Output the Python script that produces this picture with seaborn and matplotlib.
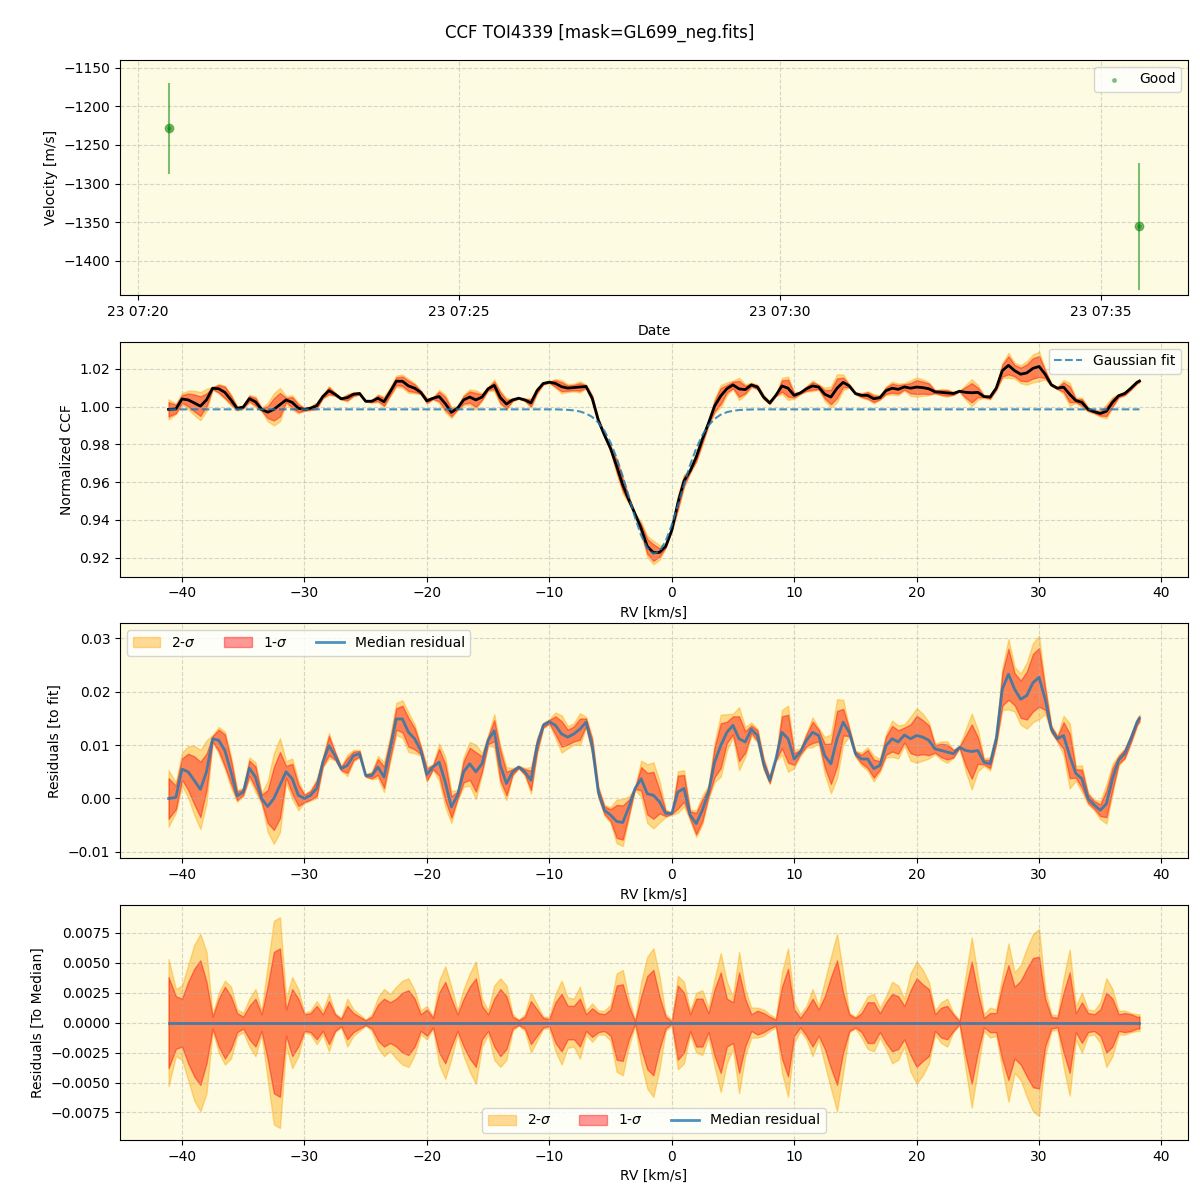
import numpy as np
import pandas as pd
import matplotlib
matplotlib.use('Agg')
import matplotlib.pyplot as plt
import matplotlib.dates as mdates
from matplotlib.ticker import MultipleLocator
import seaborn as sns

# RV grid of the CCF (km/s)
rv = [
    -41.1, -40.5, -40.0, -39.5, -39.0, -38.5, -38.0, -37.5, -37.0, -36.5,
    -36.0, -35.5, -35.0, -34.5, -34.0, -33.5, -33.0, -32.5, -32.0, -31.5,
    -31.0, -30.5, -30.0, -29.5, -29.0, -28.5, -28.0, -27.5, -27.0, -26.5,
    -26.0, -25.5, -25.0, -24.5, -24.0, -23.5, -23.0, -22.5, -22.0, -21.5,
    -21.0, -20.5, -20.0, -19.5, -19.0, -18.5, -18.0, -17.5, -17.0, -16.5,
    -16.0, -15.5, -15.0, -14.5, -14.0, -13.5, -13.0, -12.5, -12.0, -11.5,
    -11.0, -10.5, -10.0, -9.5, -9.0, -8.5, -8.0, -7.5, -7.0, -6.5,
    -6.0, -5.5, -5.0, -4.5, -4.0, -3.5, -3.0, -2.5, -2.0, -1.5,
    -1.0, -0.5, 0.0, 0.5, 1.0, 1.5, 2.0, 2.5, 3.0, 3.5,
    4.0, 4.5, 5.0, 5.5, 6.0, 6.5, 7.0, 7.5, 8.0, 8.5,
    9.0, 9.5, 10.0, 10.5, 11.0, 11.5, 12.0, 12.5, 13.0, 13.5,
    14.0, 14.5, 15.0, 15.5, 16.0, 16.5, 17.0, 17.5, 18.0, 18.5,
    19.0, 19.5, 20.0, 20.5, 21.0, 21.5, 22.0, 22.5, 23.0, 23.5,
    24.0, 24.5, 25.0, 25.5, 26.0, 26.5, 27.0, 27.5, 28.0, 28.5,
    29.0, 29.5, 30.0, 30.5, 31.0, 31.5, 32.0, 32.5, 33.0, 33.5,
    34.0, 34.5, 35.0, 35.5, 36.0, 36.5, 37.0, 37.5, 38.0, 38.2,
]

# gaussian fit evaluated on the grid
gauss_fit = [
    0.9985, 0.9985, 0.9985, 0.9985, 0.9985, 0.9985, 0.9985, 0.9985, 0.9985, 0.9985,
    0.9985, 0.9985, 0.9985, 0.9985, 0.9985, 0.9985, 0.9985, 0.9985, 0.9985, 0.9985,
    0.9985, 0.9985, 0.9985, 0.9985, 0.9985, 0.9985, 0.9985, 0.9985, 0.9985, 0.9985,
    0.9985, 0.9985, 0.9985, 0.9985, 0.9985, 0.9985, 0.9985, 0.9985, 0.9985, 0.9985,
    0.9985, 0.9985, 0.9985, 0.9985, 0.9985, 0.9985, 0.9985, 0.9985, 0.9985, 0.9985,
    0.9985, 0.9985, 0.9985, 0.9985, 0.9985, 0.9985, 0.9985, 0.9985, 0.9985, 0.9985,
    0.9985, 0.9985, 0.9985, 0.9985, 0.9984, 0.99825, 0.99795, 0.99737, 0.99632, 0.99449,
    0.99156, 0.98713, 0.9809, 0.97276, 0.96295, 0.9521, 0.94127, 0.93181, 0.92506, 0.92208,
    0.92338, 0.92871, 0.93725, 0.9477, 0.95868, 0.96902, 0.97788, 0.98486, 0.98998, 0.99347,
    0.9957, 0.99702, 0.99776, 0.99815, 0.99835, 0.99845, 0.9985, 0.9985, 0.9985, 0.9985,
    0.9985, 0.9985, 0.9985, 0.9985, 0.9985, 0.9985, 0.9985, 0.9985, 0.9985, 0.9985,
    0.9985, 0.9985, 0.9985, 0.9985, 0.9985, 0.9985, 0.9985, 0.9985, 0.9985, 0.9985,
    0.9985, 0.9985, 0.9985, 0.9985, 0.9985, 0.9985, 0.9985, 0.9985, 0.9985, 0.9985,
    0.9985, 0.9985, 0.9985, 0.9985, 0.9985, 0.9985, 0.9985, 0.9985, 0.9985, 0.9985,
    0.9985, 0.9985, 0.9985, 0.9985, 0.9985, 0.9985, 0.9985, 0.9985, 0.9985, 0.9985,
    0.9985, 0.9985, 0.9985, 0.9985, 0.9985, 0.9985, 0.9985, 0.9985, 0.9985, 0.9985,
]

# median residual to the fit
resid_med = [
    0.0000, 0.0002, 0.0055, 0.0050, 0.0034, 0.0017, 0.0050, 0.0112, 0.0109, 0.0090,
    0.0050, 0.0005, 0.0012, 0.0057, 0.0040, 0.0000, -0.0015, 0.0000, 0.0025, 0.0050,
    0.0037, 0.0006, 0.0000, 0.0006, 0.0019, 0.0068, 0.0099, 0.0080, 0.0056, 0.0062,
    0.0080, 0.0084, 0.0043, 0.0043, 0.0059, 0.0040, 0.0093, 0.0149, 0.0149, 0.0124,
    0.0112, 0.0090, 0.0045, 0.0059, 0.0068, 0.0031, -0.0016, 0.0006, 0.0050, 0.0065,
    0.0050, 0.0065, 0.0109, 0.0127, 0.0062, 0.0028, 0.0050, 0.0059, 0.0050, 0.0034,
    0.0099, 0.0137, 0.0144, 0.0137, 0.0121, 0.0115, 0.0121, 0.0130, 0.0143, 0.0099,
    0.0012, -0.0022, -0.0031, -0.0043, -0.0045, -0.0016, 0.0019, 0.0037, 0.0009, 0.0006,
    -0.0006, -0.0028, -0.0028, 0.0012, 0.0019, -0.0031, -0.0047, -0.0022, 0.0012, 0.0068,
    0.0099, 0.0124, 0.0137, 0.0112, 0.0106, 0.0130, 0.0118, 0.0065, 0.0034, 0.0074,
    0.0124, 0.0112, 0.0074, 0.0087, 0.0109, 0.0124, 0.0118, 0.0080, 0.0065, 0.0112,
    0.0143, 0.0124, 0.0084, 0.0074, 0.0074, 0.0056, 0.0062, 0.0099, 0.0112, 0.0106,
    0.0119, 0.0112, 0.0118, 0.0115, 0.0109, 0.0093, 0.0090, 0.0087, 0.0084, 0.0096,
    0.0090, 0.0088, 0.0090, 0.0068, 0.0065, 0.0112, 0.0205, 0.0233, 0.0205, 0.0186,
    0.0193, 0.0217, 0.0227, 0.0186, 0.0130, 0.0112, 0.0118, 0.0080, 0.0047, 0.0037,
    0.0000, -0.0012, -0.0022, -0.0010, 0.0037, 0.0072, 0.0084, 0.0112, 0.0143, 0.0150,
]

# 1-sigma and 2-sigma half widths (units of 1e-3)
sig1_milli = [
    3.8, 2.2, 2.0, 3.4, 4.5, 5.2, 3.4, 0.5, 2.0, 3.0,
    2.2, 0.8, 0.5, 1.4, 2.0, 0.7, 3.1, 5.9, 6.2, 1.1,
    2.8, 2.0, 0.7, 0.8, 1.4, 0.7, 1.8, 0.7, 0.3, 1.4,
    0.8, 0.5, 0.2, 0.5, 1.5, 2.0, 1.7, 2.0, 2.5, 2.7,
    2.0, 0.7, 1.1, 0.4, 2.5, 3.4, 2.0, 0.7, 2.0, 3.0,
    3.7, 1.4, 0.7, 2.0, 2.8, 2.2, 0.5, 0.2, 0.5, 1.8,
    1.1, 0.4, 0.3, 1.7, 2.4, 1.4, 1.4, 2.0, 0.7, 1.2,
    0.8, 0.7, 1.1, 3.1, 3.2, 1.4, 0.1, 2.2, 3.9, 4.4,
    2.2, 0.5, 0.1, 3.1, 2.5, 0.7, 2.0, 2.0, 0.8, 2.8,
    4.2, 2.0, 1.7, 4.2, 2.0, 0.7, 1.0, 0.8, 0.5, 0.25,
    3.0, 4.5, 1.1, 0.4, 1.1, 2.0, 1.1, 2.2, 3.8, 5.2,
    2.5, 0.7, 0.4, 0.8, 1.7, 1.7, 0.8, 1.7, 2.4, 2.2,
    1.4, 2.7, 3.7, 3.2, 2.8, 0.7, 1.25, 1.4, 0.7, 0.1,
    2.8, 5.1, 2.5, 0.4, 0.8, 0.8, 3.1, 4.8, 3.0, 3.5,
    4.5, 5.4, 5.5, 2.0, 0.5, 0.4, 2.5, 4.2, 0.8, 1.7,
    0.8, 0.7, 1.1, 2.5, 2.0, 0.7, 0.8, 0.7, 0.5, 0.5,
]
sig2_milli = [
    5.3, 2.8, 3.1, 4.8, 6.5, 7.4, 5.9, 0.7, 2.5, 3.5,
    3.0, 1.1, 0.8, 2.0, 2.8, 1.0, 4.8, 8.5, 8.8, 2.0,
    3.8, 2.8, 0.8, 1.0, 1.8, 1.0, 2.4, 0.8, 0.4, 2.0,
    1.1, 0.7, 0.25, 0.7, 2.1, 2.8, 2.4, 3.0, 3.5, 3.7,
    2.7, 1.0, 1.4, 0.5, 3.5, 4.7, 3.0, 1.0, 2.8, 4.1,
    5.1, 2.0, 1.0, 3.1, 3.7, 3.1, 0.7, 0.25, 0.7, 2.5,
    1.5, 0.5, 0.5, 2.4, 3.5, 2.1, 2.0, 3.0, 1.0, 1.6,
    1.0, 1.0, 1.5, 4.1, 4.4, 2.0, 0.25, 3.4, 5.5, 6.2,
    3.9, 0.7, 0.25, 3.9, 3.4, 1.0, 2.5, 2.7, 1.25, 3.7,
    5.8, 3.4, 2.2, 5.9, 2.8, 1.25, 1.25, 1.1, 0.7, 0.4,
    4.2, 6.2, 1.7, 0.7, 1.4, 2.8, 1.4, 3.5, 5.5, 7.4,
    4.2, 0.8, 0.5, 1.25, 2.2, 2.4, 1.25, 2.2, 3.4, 3.1,
    2.0, 4.1, 5.1, 4.4, 3.4, 1.0, 1.7, 2.0, 0.8, 0.25,
    3.9, 7.1, 3.9, 0.7, 1.25, 1.1, 3.9, 6.6, 4.2, 4.8,
    6.2, 7.4, 7.8, 2.8, 0.7, 0.6, 3.7, 6.1, 1.4, 2.5,
    1.1, 1.0, 1.7, 3.7, 2.8, 1.0, 1.0, 0.8, 0.7, 0.7,
]

# RV time series
obs_time = ['2022-01-23 07:20:29', '2022-01-23 07:35:36']
obs_vel = [-1228.5, -1355.5]
obs_err = [59.0, 82.0]

rv = np.array(rv)
fit = np.array(gauss_fit)
res = np.array(resid_med)
s1 = np.array(sig1_milli) * 1e-3
s2 = np.array(sig2_milli) * 1e-3
ccf = fit + res
t = pd.to_datetime(obs_time)

bg = '#fdfbe2'
c2 = 'orange'
c1 = 'red'
fa = 0.4

fig, axes = plt.subplots(4, 1, figsize=(12, 12), dpi=100)
fig.subplots_adjust(left=0.1, right=0.99, top=0.95, bottom=0.05, hspace=0.2)
fig.suptitle('CCF TOI4339 [mask=GL699_neg.fits]', fontsize=12, y=0.98)

for ax in axes:
    ax.set_facecolor(bg)

# panel 1: velocities
ax = axes[0]
ax.errorbar(t, obs_vel, yerr=obs_err, fmt='o', color='green', alpha=0.5, ms=6)
sns.scatterplot(x=t, y=obs_vel, ax=ax, color='green', s=12, alpha=0.5,
                linewidth=0, label='Good')
ax.xaxis.set_major_locator(mdates.MinuteLocator(byminute=range(0, 60, 5)))
ax.xaxis.set_major_formatter(mdates.DateFormatter('%d %H:%M'))
ax.set_ylim(-1444, -1140)
ax.set_xlabel('Date')
ax.set_ylabel('Velocity [m/s]')
ax.legend(loc='upper right')

# panel 2: CCF with fit
ax = axes[1]
ax.fill_between(rv, ccf - s2, ccf + s2, color=c2, alpha=fa)
ax.fill_between(rv, ccf - s1, ccf + s1, color=c1, alpha=fa)
sns.lineplot(x=rv, y=ccf, ax=ax, color='black', lw=2)
sns.lineplot(x=rv, y=fit, ax=ax, color='C0', linestyle='--', lw=1.5,
             alpha=0.8, label='Gaussian fit')
ax.set_ylim(0.910, 1.0343)
ax.set_xlabel('RV [km/s]')
ax.set_ylabel('Normalized CCF')
ax.legend(loc='upper right')

# panel 3: residuals to fit
ax = axes[2]
ax.fill_between(rv, res - s2, res + s2, color=c2, alpha=fa, label='2-$\\sigma$')
ax.fill_between(rv, res - s1, res + s1, color=c1, alpha=fa, label='1-$\\sigma$')
sns.lineplot(x=rv, y=res, ax=ax, color='C0', lw=2, alpha=0.8, label='Median residual')
ax.set_ylim(-0.0112, 0.0328)
ax.set_xlabel('RV [km/s]')
ax.set_ylabel('Residuals [to fit]')
ax.legend(loc='upper left', ncol=3)

# panel 4: residuals to median
ax = axes[3]
zero = res - res
ax.fill_between(rv, zero - s2, zero + s2, color=c2, alpha=fa, label='2-$\\sigma$')
ax.fill_between(rv, zero - s1, zero + s1, color=c1, alpha=fa, label='1-$\\sigma$')
sns.lineplot(x=rv, y=zero, ax=ax, color='C0', lw=2, alpha=0.8, label='Median residual')
ax.set_ylim(-0.0098, 0.0098)
ax.yaxis.set_major_locator(MultipleLocator(0.0025))
ax.set_xlabel('RV [km/s]')
ax.set_ylabel('Residuals [To Median]')
ax.legend(loc='lower center', ncol=3)

for ax in axes:
    ax.grid(True, linestyle='--', alpha=0.5)

fig.savefig('out.png', dpi=100)
